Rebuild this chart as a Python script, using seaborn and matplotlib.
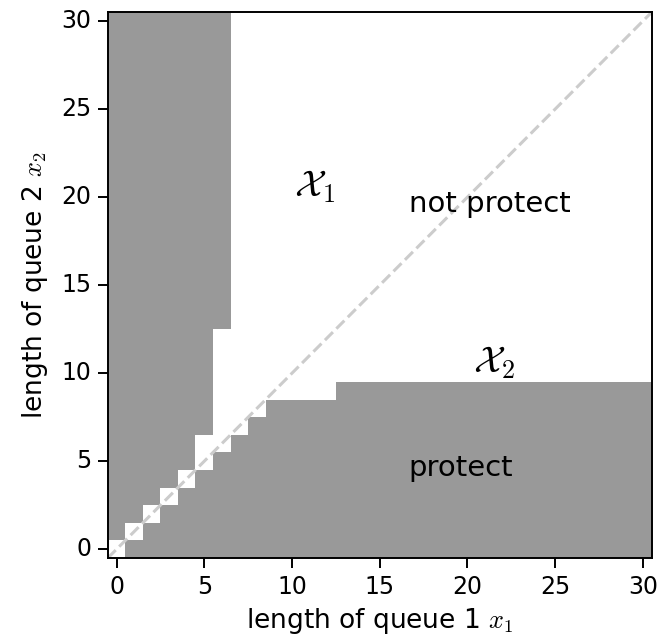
import numpy as np
import pandas as pd
import matplotlib
matplotlib.use("Agg")
import matplotlib.pyplot as plt
import seaborn as sns
from matplotlib.colors import ListedColormap

# grid size (queue lengths 0..30)
n_states = 31
# per column x1: lowest and highest x2 of the white "not protect" band
white_lo = [0, 1, 2, 3, 4, 5, 6, 7, 8, 9, 9, 9, 9] + [10] * 18
white_hi = [0, 1, 2, 3, 4, 6, 12] + [30] * 24
tick_values = [0, 5, 10, 15, 20, 25, 30]

# build protect matrix: rows = x2, cols = x1 (1 = protect / gray)
protect = np.ones((n_states, n_states))
for x1 in range(n_states):
    for x2 in range(white_lo[x1], white_hi[x1] + 1):
        protect[x2, x1] = 0
df = pd.DataFrame(protect, index=range(n_states), columns=range(n_states))

plt.rcParams["mathtext.fontset"] = "cm"
fig = plt.figure(figsize=(6.61, 6.40), dpi=100)
ax = fig.add_axes([0.163, 0.128, 0.823, 0.853])
sns.heatmap(df, ax=ax, cmap=ListedColormap(["white", "#999999"]), cbar=False,
            vmin=0, vmax=1, square=False)
ax.set_xlim(0, n_states)
ax.set_ylim(0, n_states)
ax.plot([0, n_states], [0, n_states], ls=(0, (3.7, 1.6)), color="#cccccc", lw=2.2)

ax.set_xticks(np.array(tick_values) + 0.5)
ax.set_xticklabels([str(t) for t in tick_values], rotation=0, fontsize=17)
ax.set_yticks(np.array(tick_values) + 0.5)
ax.set_yticklabels([str(t) for t in tick_values], rotation=0, fontsize=17)
ax.tick_params(length=7, width=1.4, pad=5)
for s in ax.spines.values():
    s.set_visible(True)
    s.set_color("black")
    s.set_linewidth(1.4)

ax.set_xlabel("length of queue 1 $x_1$", fontsize=19, labelpad=5)
ax.set_ylabel("length of queue 2 $x_2$", fontsize=19, labelpad=8)

ax.text(21.8, 20.1, "not protect", fontsize=21, ha="center", va="center")
ax.text(20.1, 5.1, "protect", fontsize=21, ha="center", va="center")
ax.text(11.8, 21.1, r"$\mathcal{X}_1$", fontsize=27, ha="center", va="center")
ax.text(22.0, 11.1, r"$\mathcal{X}_2$", fontsize=27, ha="center", va="center")

fig.savefig("out.png", dpi=100)
